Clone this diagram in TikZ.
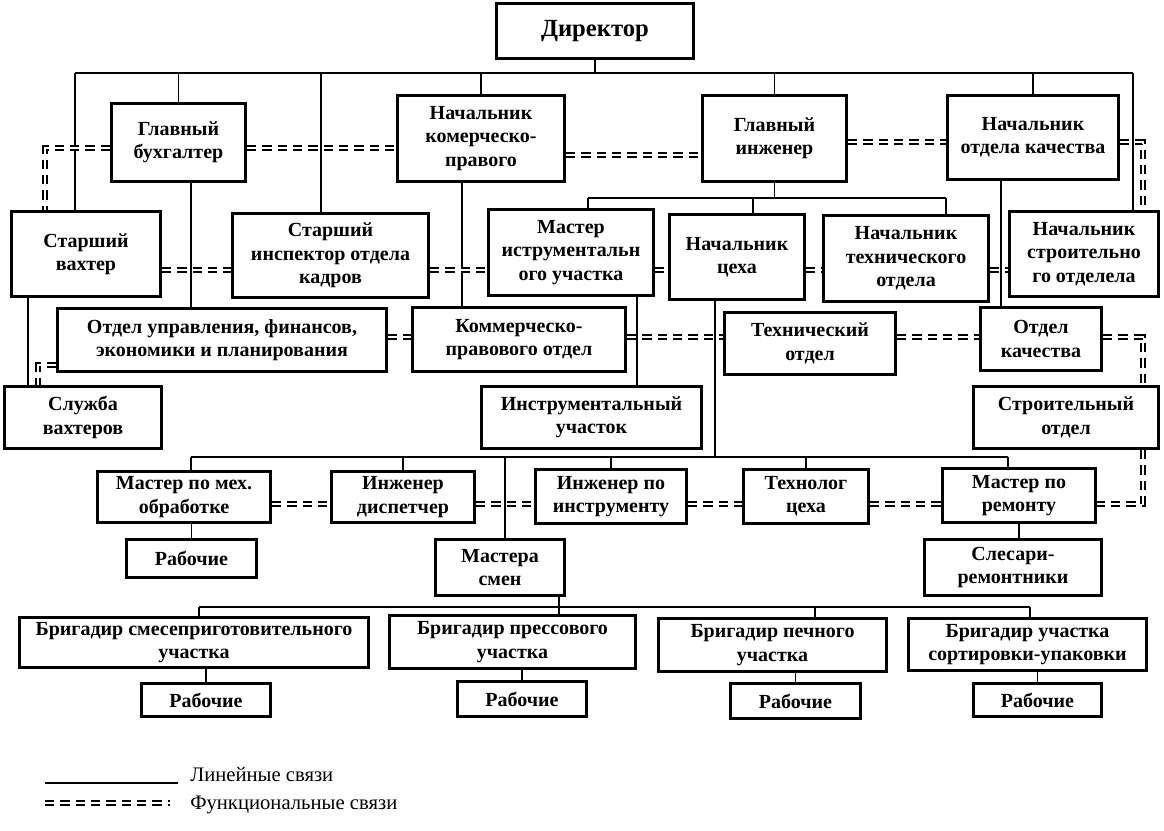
\documentclass[tikz,border=0pt]{standalone}
\usepackage{fontspec}
\setmainfont{Liberation Serif}
\usetikzlibrary{calc}

\begin{document}
\begin{tikzpicture}[x=0.75pt, y=-0.75pt,
    box/.style={draw, line width=2.4pt, align=center, inner sep=0pt, font=\bfseries\fontsize{15}{17.5}\selectfont},
    sz/.style 2 args={minimum width=#1*0.75pt, minimum height=#2*0.75pt},
    lin/.style={line width=1.2pt},
    func/.style={double, double distance=2.2pt, line width=1.5pt, dash pattern=on 7pt off 4.5pt},
    lgd/.style={anchor=west, inner sep=0pt, font=\fontsize{15.5}{18}\selectfont}]
    \useasboundingbox (0,0) rectangle (1164,831);

    \node[box, sz={197}{55}, font=\bfseries\fontsize{18.5}{21}\selectfont] (0) at (595,31) {Директор};
    \node[box, sz={134}{78}] (1) at (178.5,142.5) {Главный\\бухгалтер};
    \node[box, sz={167}{86}] (2) at (481,138.5) {Начальник\\комерческо-\\правого};
    \node[box, sz={144}{86}] (3) at (774.5,138.5) {Главный\\инженер};
    \node[box, sz={171}{84}] (4) at (1033,137.5) {Начальник\\отдела качества};
    \node[box, sz={149}{85}] (5) at (86,254) {Старший\\вахтер};
    \node[box, sz={196}{84}] (6) at (330.5,255.5) {Старший\\инспектор отдела\\кадров};
    \node[box, sz={165}{86}] (7) at (571,252.5) {Мастер\\иструментальн\\ого участка};
    \node[box, sz={135}{85}] (8) at (737,257) {Начальник\\цеха};
    \node[box, sz={165}{86}] (9) at (906,258.5) {Начальник\\технического\\отдела};
    \node[box, sz={149}{85}] (10) at (1084,254) {Начальник\\строительно\\го отделела};
    \node[box, sz={329}{63}] (11) at (222,340) {Отдел управления, финансов,\\экономики и планирования};
    \node[box, sz={213}{64}] (12) at (519,339.5) {Коммерческо-\\правового отдел};
    \node[box, sz={171}{62}] (13) at (810,343.5) {Технический\\отдел};
    \node[box, sz={121}{63}] (14) at (1041,339) {Отдел\\качества};
    \node[box, sz={157}{62}] (15) at (83,417.5) {Служба\\вахтеров};
    \node[box, sz={220}{62}] (16) at (591.5,417.5) {Инструментальный\\участок};
    \node[box, sz={185}{62}] (17) at (1066,417.5) {Строительный\\отдел};
    \node[box, sz={173}{51}] (18) at (184,497) {Мастер по мех.\\обработке};
    \node[box, sz={143}{51}] (19) at (403,497) {Инженер\\диспетчер};
    \node[box, sz={151}{54}] (20) at (611,496.5) {Инженер по\\инструменту};
    \node[box, sz={125}{54}] (21) at (806,496.5) {Технолог\\цеха};
    \node[box, sz={153}{54}] (22) at (1019,495.5) {Мастер по\\ремонту};
    \node[box, sz={130}{38}] (23) at (191.5,558.5) {Рабочие};
    \node[box, sz={129}{56}] (24) at (500,567.5) {Мастера\\смен};
    \node[box, sz={177}{56}] (25) at (1013,567.5) {Слесари-\\ремонтники};
    \node[box, sz={349}{50}] (26) at (194,642.5) {Бригадир смесеприготовительного\\участка};
    \node[box, sz={246}{53}] (27) at (512.5,642) {Бригадир прессового\\участка};
    \node[box, sz={228}{53}] (28) at (772.5,645) {Бригадир печного\\участка};
    \node[box, sz={238}{52}] (29) at (1027.5,644.5) {Бригадир участка\\сортировки-упаковки};
    \node[box, sz={129}{33}] (30) at (206,700) {Рабочие};
    \node[box, sz={129}{35}] (31) at (522,699) {Рабочие};
    \node[box, sz={130}{35}] (32) at (795.5,701) {Рабочие};
    \node[box, sz={128}{33}] (33) at (1037.5,700) {Рабочие};

    \coordinate (h1) at (75,73);
    \coordinate (h2) at (1133,73);
    \coordinate (h3) at (588,198);
    \coordinate (h4) at (946,198);
    \coordinate (h5) at (191,457);
    \coordinate (h6) at (1008,457);
    \coordinate (h7) at (199,607);
    \coordinate (h8) at (1030,607);
    \coordinate (v1) at (321,73);
    \coordinate (v2) at (191,183);
    \coordinate (v3) at (462,183);
    \coordinate (v4) at (1001,183);
    \coordinate (v5) at (28,298);
    \coordinate (v6) at (637,297);
    \coordinate (v7) at (753,198);
    \coordinate (v8) at (715,457);
    \coordinate (v9) at (505,457);
    \coordinate (v10) at (559,607);
    \coordinate (v11) at (815,607);

    \draw[lin] (0) -- (0 |- h1);
    \draw[lin] (h1) -- (h2);
    \draw[lin] (h1) -- (h1 |- 5.north);
    \draw[lin] (h2) -- (h2 |- 10.north);
    \draw[lin] (1) -- (1 |- h1);
    \draw[lin] (2) -- (2 |- h1);
    \draw[lin] (3) -- (3 |- h1);
    \draw[lin] (4) -- (4 |- h1);
    \draw[lin] (v1) -- (v1 |- 6.north);
    \draw[lin] (3) -- (3 |- h3);
    \draw[lin] (h3) -- (h4);
    \draw[lin] (h3) -- (h3 |- 7.north);
    \draw[lin] (h4) -- (h4 |- 9.north);
    \draw[lin] (v7) -- (v7 |- 8.north);
    \draw[lin] (1.south -| v2) -- (v2 |- 11.north);
    \draw[lin] (2.south -| v3) -- (v3 |- 12.north);
    \draw[lin] (4.south -| v4) -- (v4 |- 14.north);
    \draw[lin] (5.south -| v5) -- (v5 |- 15.north);
    \draw[lin] (7.south -| v6) -- (v6 |- 16.north);
    \draw[lin] (8.south -| v8) -- (v8);
    \draw[lin] (h5) -- (h6);
    \draw[lin] (h5) -- (h5 |- 18.north);
    \draw[lin] (19) -- (19 |- h5);
    \draw[lin] (20) -- (20 |- h5);
    \draw[lin] (21) -- (21 |- h5);
    \draw[lin] (h6) -- (h6 |- 22.north);
    \draw[lin] (v9) -- (v9 |- 24.north);
    \draw[lin] (23 |- 18.south) -- (23);
    \draw[lin] (22) -- (22 |- 25.north);
    \draw[lin] (24.south -| v10) -- (v10 |- 27.north);
    \draw[lin] (h7) -- (h8);
    \draw[lin] (h7) -- (h7 |- 26.north);
    \draw[lin] (v11) -- (v11 |- 28.north);
    \draw[lin] (h8) -- (h8 |- 29.north);
    \draw[lin] (30) -- (30 |- 26.south);
    \draw[lin] (31) -- (31 |- 27.south);
    \draw[lin] (32) -- (32 |- 28.south);
    \draw[lin] (33) -- (33 |- 29.south);

    \coordinate (f1) at (0,148);
    \coordinate (f2) at (0,155);
    \coordinate (f3) at (0,142);
    \coordinate (f4) at (0,270);
    \coordinate (f5) at (0,337);
    \coordinate (f6) at (0,365);
    \coordinate (f7) at (0,504);
    \coordinate (d1) at (45,0);
    \coordinate (d2) at (1143,0);
    \coordinate (d3) at (38,0);

    \draw[func] (1.west |- f1) -| (d1 |- 5.north);
    \draw[func] (1.east |- f1) -- (2.west |- f1);
    \draw[func] (2.east |- f2) -- (3.west |- f2);
    \draw[func] (3.east |- f3) -- (4.west |- f3);
    \draw[func] (4.east |- f3) -| (d2 |- 10.north);
    \draw[func] (5.east |- f4) -- (6.west |- f4);
    \draw[func] (6.east |- f4) -- (7.west |- f4);
    \draw[func] (7.east |- f4) -- (8.west |- f4);
    \draw[func] (8.east |- f4) -- (9.west |- f4);
    \draw[func] (9.east |- f4) -- (10.west |- f4);
    \draw[func] (11.east |- f5) -- (12.west |- f5);
    \draw[func] (12.east |- f5) -- (13.west |- f5);
    \draw[func] (13.east |- f5) -- (14.west |- f5);
    \draw[func] (14.east |- f5) -| (d2 |- 17.north);
    \draw[func] (d2 |- 17.south) |- (22.east |- f7);
    \draw[func] (11.west |- f6) -| (d3 |- 15.north);
    \draw[func] (18.east |- f7) -- (19.west |- f7);
    \draw[func] (19.east |- f7) -- (20.west |- f7);
    \draw[func] (20.east |- f7) -- (21.west |- f7);
    \draw[func] (21.east |- f7) -- (22.west |- f7);

    \coordinate (l1) at (45,783);
    \coordinate (l2) at (178,783);
    \coordinate (l3) at (45,803);
    \coordinate (l4) at (170,803);
    \draw[lin] (l1) -- (l2);
    \draw[func] (l3) -- (l4);
    \node[lgd] (34) at (190,775) {Линейные связи};
    \node[lgd] (35) at (190,805) {Функциональные связи};
\end{tikzpicture}
\end{document}
